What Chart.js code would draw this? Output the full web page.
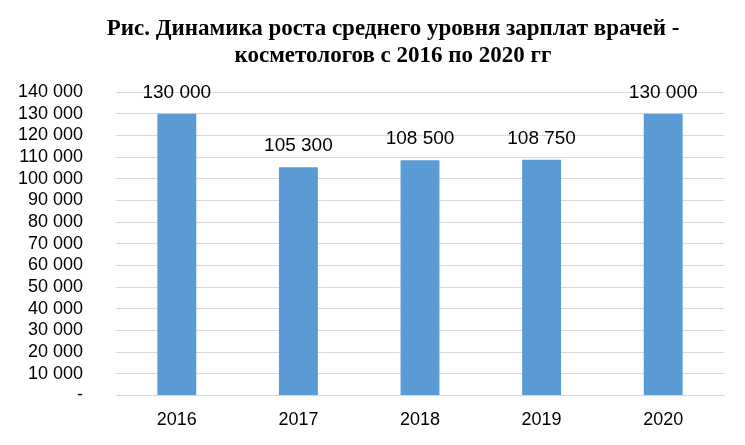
<!DOCTYPE html>
<html>
<head>
<meta charset="utf-8">
<script src="https://cdn.jsdelivr.net/npm/chart.js@4"></script>
<style>
  html, body { margin: 0; padding: 0; background: #fff; }
  #wrap { width: 745px; height: 445px; }
</style>
</head>
<body>
<div id="wrap"><canvas id="salaryChart" width="745" height="445"></canvas></div>
<script>
const years = ['2016', '2017', '2018', '2019', '2020'];
const salaries = [130000, 105300, 108500, 108750, 130000];
const titleLines = ['Рис. Динамика роста среднего уровня зарплат врачей -', 'косметологов с 2016 по 2020 гг'];

function fmt(v) {
    if (v === 0) return '-';
    return String(v).replace(/\B(?=(\d{3})+(?!\d))/g, ' ');
}

// value labels above the bars
const barLabels = {
    id: 'barLabels',
    afterDatasetsDraw(chart) {
        const ctx = chart.ctx;
        const meta = chart.getDatasetMeta(0);
        ctx.save();
        ctx.font = '19px "Liberation Sans", Arial, sans-serif';
        ctx.fillStyle = '#000';
        ctx.textAlign = 'center';
        ctx.textBaseline = 'middle';
        meta.data.forEach((bar, i) => {
            ctx.fillText(fmt(salaries[i]), bar.x, bar.y - 21);
        });
        ctx.restore();
    }
};

// two-line title, centred a bit right of the canvas middle like the original
const chartTitle = {
    id: 'chartTitle',
    afterDraw(chart) {
        const ctx = chart.ctx;
        ctx.save();
        ctx.font = 'bold 23px "Liberation Serif", "Times New Roman", serif';
        ctx.fillStyle = '#000';
        ctx.textAlign = 'center';
        ctx.textBaseline = 'middle';
        titleLines.forEach((line, i) => {
            ctx.fillText(line, 393, 29 + i * 27);
        });
        ctx.restore();
    }
};

new Chart(document.getElementById('salaryChart'), {
    type: 'bar',
    data: {
        labels: years,
        datasets: [{
            data: salaries,
            backgroundColor: '#5B9BD5',
            barPercentage: 0.32,
            categoryPercentage: 1
        }]
    },
    options: {
        responsive: false,
        animation: false,
        layout: { padding: { top: 92, left: 0, right: 21, bottom: 0 } },
        plugins: {
            legend: { display: false },
            tooltip: { enabled: false },
            title: { display: false }
        },
        scales: {
            x: {
                grid: { display: false, drawTicks: false },
                border: { display: true, color: '#d9d9d9' },
                ticks: {
                    color: '#000',
                    font: { family: '"Liberation Sans", Arial, sans-serif', size: 18 },
                    padding: 14
                }
            },
            y: {
                min: 0,
                max: 140000,
                afterFit(scale) { scale.width = 116; },
                grid: { color: '#d9d9d9', drawTicks: false },
                border: { display: false },
                ticks: {
                    stepSize: 10000,
                    autoSkip: false,
                    color: '#000',
                    padding: 33,
                    font: { family: '"Liberation Sans", Arial, sans-serif', size: 18 },
                    callback: v => fmt(v)
                }
            }
        }
    },
    plugins: [barLabels, chartTitle]
});
</script>
</body>
</html>
